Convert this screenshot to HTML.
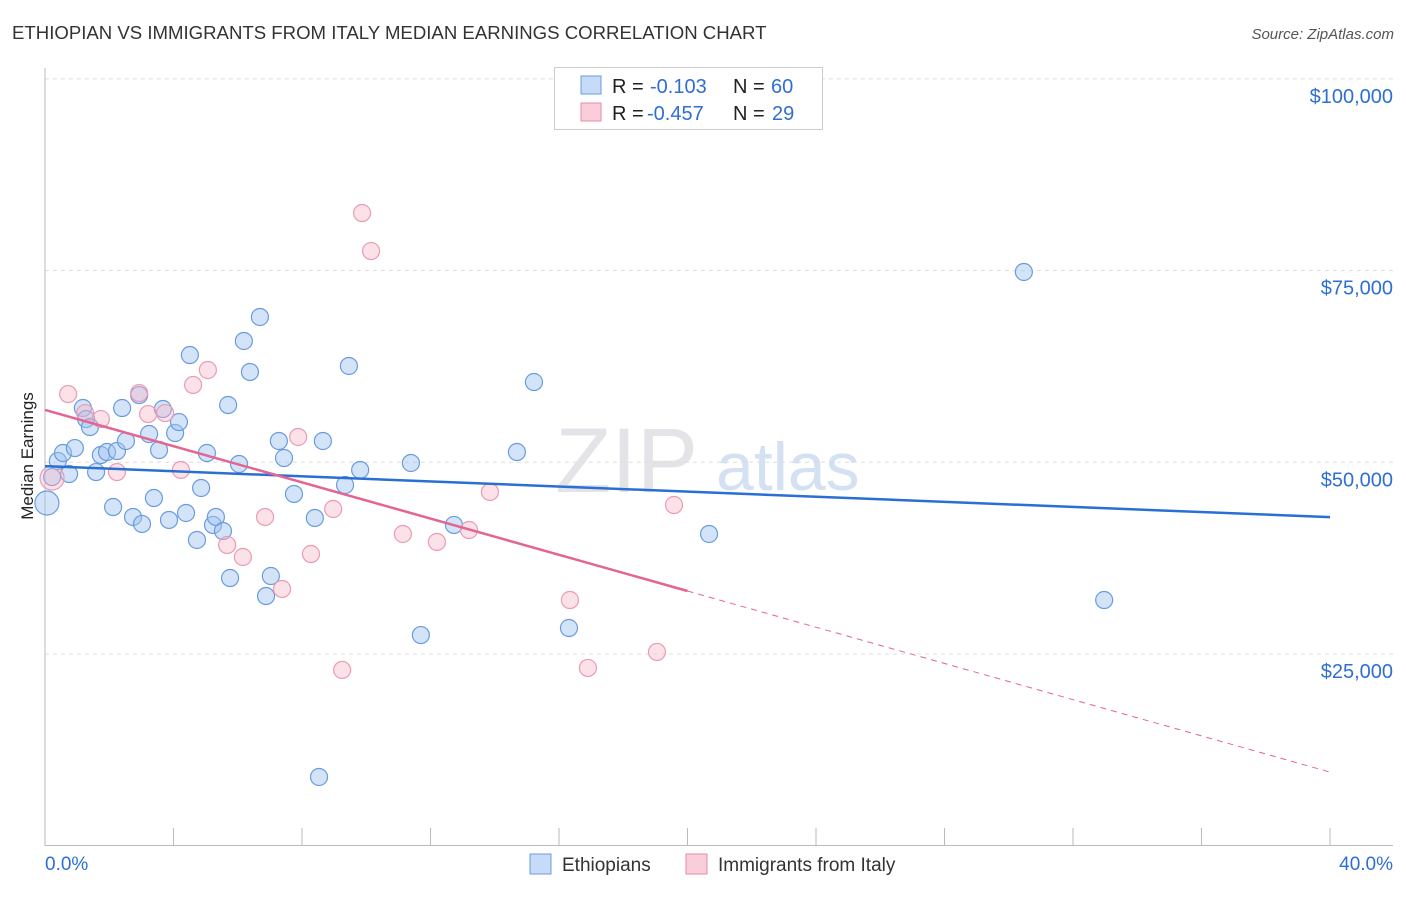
<!DOCTYPE html>
<html><head><meta charset="utf-8"><style>
body{margin:0;background:#fff;font-family:"Liberation Sans",sans-serif}
svg text{font-family:"Liberation Sans",sans-serif}
</style></head><body>
<svg id="c" width="1406" height="892">
<text x="12" y="39" font-size="18.6" fill="#333">ETHIOPIAN VS IMMIGRANTS FROM ITALY MEDIAN EARNINGS CORRELATION CHART</text>
<text x="1394" y="39" font-size="15" fill="#555" text-anchor="end" font-style="italic">Source: ZipAtlas.com</text>
<text x="33" y="456" font-size="17" fill="#222" text-anchor="middle" transform="rotate(-90 33 456)">Median Earnings</text>
<text x="555" y="492" font-size="92" fill="#e4e4e8" font-family="Liberation Serif">ZIP</text>
<text x="716" y="490" font-size="68" fill="#d3e1f2">atlas</text>
<g id="grid"></g><g id="ticks"></g><g id="pts"></g><g id="trend"></g>
<g>
<rect x="554.5" y="67.5" width="268" height="62" fill="#fff" stroke="#ccc"/>
<rect x="581" y="76" width="20" height="18" fill="#c6dbf7" stroke="#6a9be0"/>
<text x="612" y="93" font-size="20" fill="#222">R =</text>
<text x="650" y="93" font-size="20" fill="#2e6fd4">-0.103</text>
<text x="733" y="93" font-size="20" fill="#222">N =</text>
<text x="771" y="93" font-size="20" fill="#2e6fd4">60</text>
<rect x="581" y="103" width="20" height="18" fill="#f9cdd9" stroke="#e98aa6"/>
<text x="612" y="120" font-size="20" fill="#222">R =</text>
<text x="647" y="120" font-size="20" fill="#2e6fd4">-0.457</text>
<text x="733" y="120" font-size="20" fill="#222">N =</text>
<text x="772" y="120" font-size="20" fill="#2e6fd4">29</text>
</g>
<g>
<rect x="530" y="854" width="21" height="20" fill="#c6dbf7" stroke="#6a9be0"/>
<text x="562" y="871" font-size="19" fill="#333">Ethiopians</text>
<rect x="686" y="854" width="21" height="20" fill="#f9cdd9" stroke="#e98aa6"/>
<text x="718" y="871" font-size="19" fill="#333">Immigrants from Italy</text>
</g>
</svg>
<script>
const blueX=[0.06,0.22,0.40,0.56,0.75,0.93,1.18,1.28,1.40,1.59,1.74,1.93,2.12,2.24,2.40,2.52,2.74,2.93,3.02,3.24,3.39,3.55,3.67,3.86,4.05,4.17,4.39,4.51,4.73,4.86,5.04,5.23,5.32,5.54,5.70,5.76,6.04,6.19,6.38,6.69,6.88,7.03,7.28,7.44,7.75,8.40,8.53,8.65,9.34,9.46,9.81,11.39,11.70,12.73,14.69,15.22,16.31,20.67,30.47,32.97];
const blueY=[44690,48080,50170,51210,48470,51860,57080,55640,54600,48730,50950,51340,44170,51470,57080,52780,42870,58770,41960,53690,45340,51600,56950,42480,53820,55250,43390,63990,39870,46650,51210,41830,42870,41040,57470,34910,49780,65820,61780,68950,32560,35170,52780,50560,45870,42740,8960,52780,47040,62560,49000,49910,27470,41830,51340,60470,28390,40650,74820,32040];
const pinkX=[0.22,0.72,1.25,1.74,2.24,2.93,3.21,3.74,4.23,4.61,5.07,5.67,6.16,6.85,7.38,7.88,8.28,8.97,9.25,9.87,10.15,11.14,12.20,13.20,13.85,16.34,16.90,19.05,19.58];
const pinkY=[47950,58900,56420,55640,48730,59030,56290,56420,49000,60090,62040,39220,37650,42870,33480,53300,38040,43910,22920,82510,77550,40650,39610,41170,46130,32040,23180,25270,44430];
const yTicks=[25000,50000,75000,100000];
const yTickLabels=["$25,000","$50,000","$75,000","$100,000"];
const blueTrend=[49500,42850];
const pinkTrend=[56830,9600];
const NS='http://www.w3.org/2000/svg';
const X=v=>45+v/40*1285, Y=v=>845.7-v/25000*191.7;
function mk(t,a,p){const e=document.createElementNS(NS,t);for(const k in a)e.setAttribute(k,a[k]);document.getElementById(p).appendChild(e);return e;}
let e;
yTicks.forEach((t,i)=>{
 e=mk('line',{x1:45,x2:1393,y1:Y(t),y2:Y(t),stroke:'#ddd','stroke-dasharray':'4 4'},'grid');
 
 
 e=mk('text',{x:1393,y:Y(t)+24,'font-size':20,fill:'#2e6fd4','text-anchor':'end'},'grid');e.textContent=yTickLabels[i];
 
 
});
e=mk('line',{x1:45,x2:45,y1:68,y2:846,stroke:'#bbb'},'ticks');


e=mk('line',{x1:45,x2:1393,y1:845.5,y2:845.5,stroke:'#bbb'},'ticks');


for(let i=0;i<=10;i++){e=mk('line',{x1:X(i*4),x2:X(i*4),y1:828,y2:846,stroke:'#bbb'},'ticks');
 
 }
e=mk('text',{x:45,y:870,'font-size':19,fill:'#2e6fd4'},'ticks');e.textContent='0.0%';


e=mk('text',{x:1393,y:870,'font-size':19,fill:'#2e6fd4','text-anchor':'end'},'ticks');e.textContent='40.0%';


blueX.forEach((v,i)=>{e=mk('circle',{cx:X(v),cy:Y(blueY[i]),r:i==0?12:8.5,fill:'rgba(160,196,240,0.45)',stroke:'#6a9be0','stroke-width':1.2},'pts');
 
 });
pinkX.forEach((v,i)=>{e=mk('circle',{cx:X(v),cy:Y(pinkY[i]),r:i==0?12:8.5,fill:'rgba(246,182,200,0.4)',stroke:'#ec9ab2','stroke-width':1.2},'pts');
 
 });
e=mk('line',{x1:X(0),y1:Y(blueTrend[0]),x2:X(40),y2:Y(blueTrend[1]),stroke:'#2a6fd3','stroke-width':2.5},'trend');


const pm=pinkTrend[0]+(pinkTrend[1]-pinkTrend[0])*0.5;
e=mk('line',{x1:X(0),y1:Y(pinkTrend[0]),x2:X(20),y2:Y(pm),stroke:'#e36592','stroke-width':2.5},'trend');


e=mk('line',{x1:X(20),y1:Y(pm),x2:X(40),y2:Y(pinkTrend[1]),stroke:'#e36592','stroke-width':1,'stroke-dasharray':'6 5'},'trend');


</script>
</body></html>
